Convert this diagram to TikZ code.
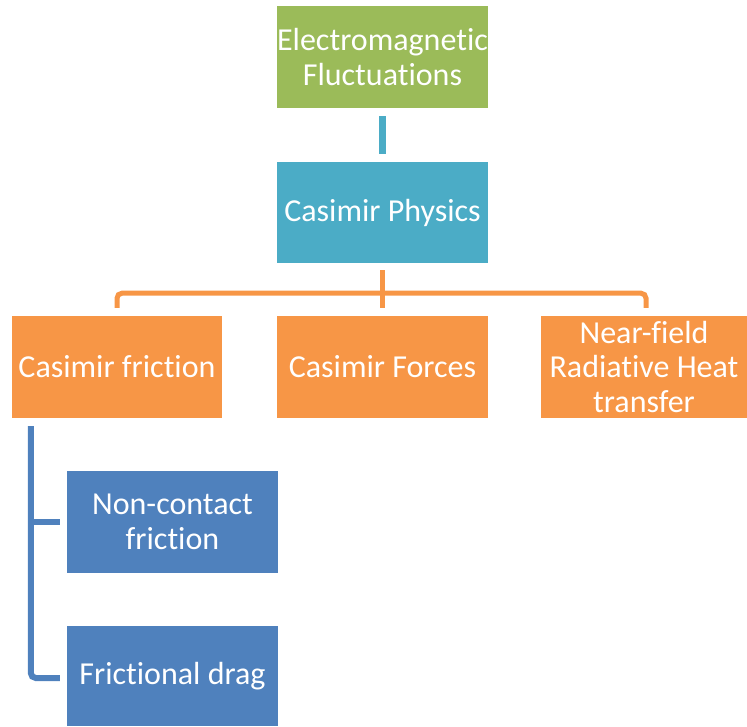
\documentclass[tikz,border=0pt]{standalone}
\usepackage{fontspec}
\setmainfont{Carlito}[Ligatures=NoCommon]
\usetikzlibrary{calc}
\definecolor{cgreen}{HTML}{9BBB59}
\definecolor{cteal}{HTML}{4BACC6}
\definecolor{corange}{HTML}{F79646}
\definecolor{cblue}{HTML}{4F81BD}
\begin{document}
\begin{tikzpicture}[x=1pt,y=-1pt,
  box/.style={draw=none, minimum width=211pt, minimum height=102pt, inner sep=0pt,
    text=white, font=\fontsize{32}{35}\selectfont, align=center},
  link/.style={line width=6pt, line cap=butt}]
\useasboundingbox (0,0) rectangle (747,726);
\node[box, fill=cgreen] (em) at (382.5,57) {Electromagnetic\\Fluctuations};
\node[box, fill=cteal, minimum height=101pt] (cp) at (382.5,212.5) {Casimir Physics};
\node[box, fill=corange, minimum width=210pt] (cf) at (117,367) {Casimir friction};
\node[box, fill=corange] (cfo) at (382.5,367) {Casimir Forces};
\node[box, fill=corange, minimum width=206pt] (nf) at (644,367) {Near-field\\Radiative Heat\\transfer};
\node[box, fill=cblue] (nc) at (172.5,522) {Non-contact\\friction};
\node[box, fill=cblue, minimum height=100pt] (fd) at (172.5,676) {Frictional drag};
% teal connector
\draw[link, cteal, line width=7pt] ($(em.south)+(0,8)$) -- ($(cp.north)+(0,-8)$);
% orange connectors
\coordinate (bar) at ($(cp.south)+(0,30)$);
\draw[link, corange, line width=5pt, rounded corners=5pt] ($(cf.north)+(0,-8)$) |- (bar) -| ($(nf.north)+(2,-8)$);
\draw[link, corange, line width=5pt] ($(cp.south)+(0,7)$) -- ($(cfo.north)+(0,-8)$);
% blue connectors
\coordinate (bstart) at ($(cf.south west)+(19,8)$);
\draw[link, cblue, rounded corners=5pt] (bstart) |- ($(fd.west)+(-7,2)$);
\draw[link, cblue] (bstart |- nc.west) -- ($(nc.west)+(-7,0)$);
\end{tikzpicture}
\end{document}
